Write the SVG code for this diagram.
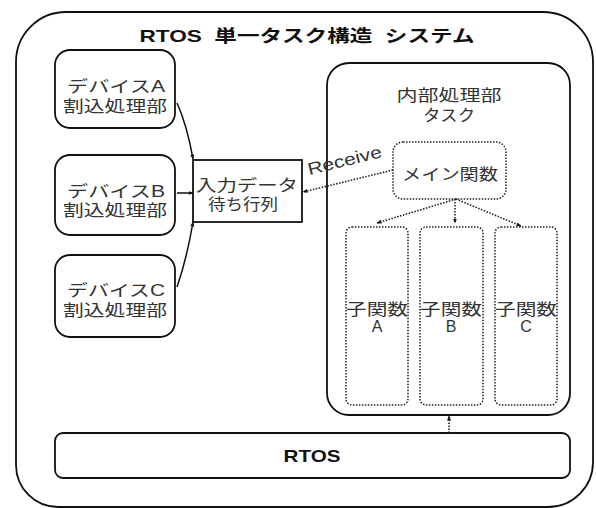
<svg xmlns="http://www.w3.org/2000/svg" width="596" height="508" viewBox="0 0 596 508">
<defs>
<style>
.box{fill:#fff;stroke:#111;stroke-width:1.8}
.dot{fill:#fff;stroke:#222;stroke-width:1.5;stroke-dasharray:1.5 1.5}
.ln{fill:none;stroke:#111;stroke-width:1.5}
.dl{fill:none;stroke:#222;stroke-width:1.6;stroke-dasharray:1.5 1.5}
.t{font-family:"Liberation Sans","Noto Sans CJK JP",sans-serif;font-size:16px;fill:#333;text-anchor:middle}
.b{font-family:"Liberation Sans","Noto Sans CJK JP",sans-serif;font-size:17px;font-weight:bold;fill:#111;text-anchor:middle}
</style>
<marker id="ah" viewBox="0 0 10 10" refX="9" refY="5" markerWidth="5" markerHeight="5" orient="auto" markerUnits="userSpaceOnUse">
<path d="M0,1 L10,5 L0,9 z" fill="#111"/>
</marker>
</defs>
<rect width="596" height="508" fill="#fff"/>
<g id="system">
<path class="box" d="M66,12 H543 A50,50 0 0 1 593,62 V462 A45,45 0 0 1 548,507 H58 A42,42 0 0 1 16,465 V62 A50,50 0 0 1 66,12 Z"/>
<text class="b" x="307" y="42" xml:space="preserve" style="white-space:pre" textLength="335" lengthAdjust="spacingAndGlyphs">RTOS  単一タスク構造  システム</text>
</g>
<g id="devA">
<rect class="box" x="55" y="50" width="120" height="78" rx="15"/>
<text class="t" x="116" y="92" textLength="98" lengthAdjust="spacingAndGlyphs">デバイスA</text>
<text class="t" x="115" y="112" textLength="104" lengthAdjust="spacingAndGlyphs">割込処理部</text>
</g>
<g id="devB">
<rect class="box" x="55" y="155" width="120" height="80" rx="15"/>
<text class="t" x="116" y="197" textLength="98" lengthAdjust="spacingAndGlyphs">デバイスB</text>
<text class="t" x="115" y="216" textLength="104" lengthAdjust="spacingAndGlyphs">割込処理部</text>
</g>
<g id="devC">
<rect class="box" x="55" y="255" width="120" height="82" rx="15"/>
<text class="t" x="116" y="296" textLength="98" lengthAdjust="spacingAndGlyphs">デバイスC</text>
<text class="t" x="115" y="316" textLength="104" lengthAdjust="spacingAndGlyphs">割込処理部</text>
</g>
<g id="queue">
<rect class="box" x="193" y="160" width="109" height="62"/>
<text class="t" x="247" y="191" textLength="102" lengthAdjust="spacingAndGlyphs">入力データ</text>
<text class="t" x="243" y="210" textLength="70" lengthAdjust="spacingAndGlyphs">待ち行列</text>
</g>
<g id="task">
<rect class="box" x="327" y="63" width="243" height="352" rx="22"/>
<text class="t" x="449" y="101" textLength="105" lengthAdjust="spacingAndGlyphs">内部処理部</text>
<text class="t" x="449" y="121" textLength="52" lengthAdjust="spacingAndGlyphs">タスク</text>
</g>
<g id="main">
<rect class="dot" x="393" y="142" width="113" height="57" rx="10"/>
<text class="t" x="450" y="180" textLength="96" lengthAdjust="spacingAndGlyphs">メイン関数</text>
</g>
<g id="subA">
<rect class="dot" x="346" y="227" width="62" height="178" rx="6"/>
<text class="t" x="377" y="315" textLength="62" lengthAdjust="spacingAndGlyphs">子関数</text>
<text class="t" x="377" y="332">A</text>
</g>
<g id="subB">
<rect class="dot" x="420" y="227" width="63" height="178" rx="6"/>
<text class="t" x="451" y="315" textLength="62" lengthAdjust="spacingAndGlyphs">子関数</text>
<text class="t" x="451" y="332">B</text>
</g>
<g id="subC">
<rect class="dot" x="495" y="227" width="62" height="178" rx="6"/>
<text class="t" x="526" y="315" textLength="62" lengthAdjust="spacingAndGlyphs">子関数</text>
<text class="t" x="526" y="332">C</text>
</g>
<g id="rtos">
<rect class="box" x="55" y="433" width="515" height="45" rx="8"/>
<text class="b" x="312" y="462" textLength="57" lengthAdjust="spacingAndGlyphs">RTOS</text>
</g>
<g id="connectors">
<path class="ln" d="M177,103 Q187,125 193,159" marker-end="url(#ah)"/>
<path class="ln" d="M177,193 H193" marker-end="url(#ah)"/>
<path class="ln" d="M177,287 Q187,258 193,222" marker-end="url(#ah)"/>
<path class="dl" d="M393,170 L303,192" marker-end="url(#ah)"/>
<text class="t" x="0" y="0" transform="translate(346,166) rotate(-14)" style="font-size:17px" textLength="76" lengthAdjust="spacingAndGlyphs">Receive</text>
<path class="dl" d="M456,199 L377,223" marker-end="url(#ah)"/>
<path class="dl" d="M455,199 V223" marker-end="url(#ah)"/>
<path class="dl" d="M456,199 L521,226" marker-end="url(#ah)"/>
<path class="dl" d="M449,433 V416" marker-end="url(#ah)"/>
</g>
</svg>
